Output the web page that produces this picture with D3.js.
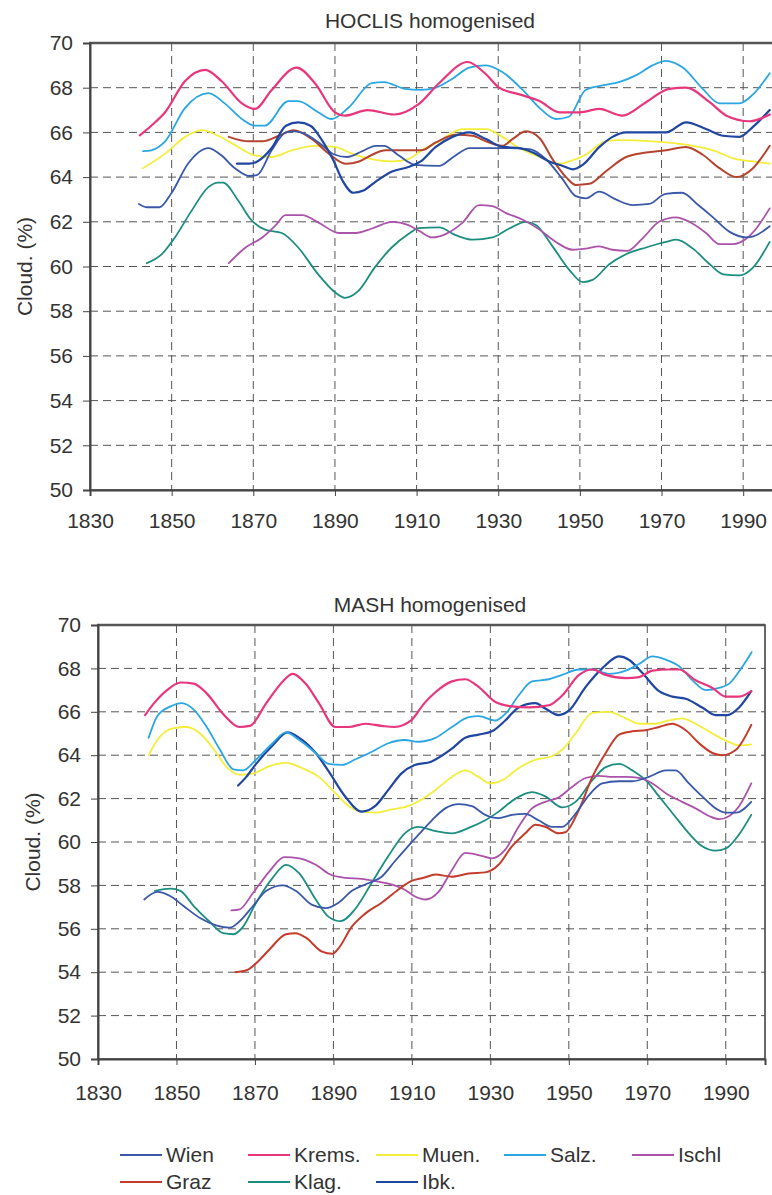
<!DOCTYPE html>
<html><head><meta charset="utf-8">
<script src="https://cdn.jsdelivr.net/npm/d3@7"></script>
<style>body{margin:0;background:#fff}svg{display:block}</style>
</head><body>
<svg id="c" width="772" height="1195"></svg>
<script>
// ---- data ----
const stations = ["Wien","Krems.","Muen.","Salz.","Ischl","Graz","Klag.","Ibk."];
const stationColors = ["#3a58a8","#e8367c","#f4ee3a","#2aa6e2","#ab52aa","#c43c2c","#1c8e80","#1f46a0"];
const xTicks = [1830,1850,1870,1890,1910,1930,1950,1970,1990];
const yTicks = [50,52,54,56,58,60,62,64,66,68,70];

// HOCLIS homogenised [year, cloudiness %]
const hoclisWien = [[1842,62.8],[1844,62.65],[1847,62.65],[1850,63.3],[1854,64.6],[1859,65.3],[1862,65.0],[1865.5,64.4],[1869,64.05],[1871,64.1],[1874.5,65.2],[1878,66.0],[1880,66.05],[1883,65.9],[1886,65.55],[1890,65.0],[1893,64.9],[1896.6,65.15],[1900,65.4],[1902,65.4],[1905.4,65.0],[1909.5,64.55],[1915.5,64.5],[1919,64.9],[1923,65.3],[1931,65.3],[1937.6,65.25],[1941.7,64.8],[1945.8,63.9],[1949,63.15],[1951.5,63.05],[1954.7,63.35],[1958.8,63.0],[1963,62.75],[1967,62.8],[1971,63.25],[1975,63.3],[1979,62.75],[1982.6,62.2],[1986.7,61.55],[1990.8,61.3],[1992.5,61.35],[1996.5,61.8]];
const hoclisKrems = [[1842.2,65.87],[1845,66.3],[1848.4,66.9],[1853.3,68.3],[1858.2,68.8],[1862.2,68.3],[1867.2,67.3],[1870.4,67.05],[1874.5,67.9],[1880.6,68.9],[1885.1,68.2],[1890,66.9],[1892.4,66.75],[1898,67.0],[1904.5,66.8],[1910.4,67.25],[1915.5,68.2],[1922.5,69.15],[1927,68.6],[1930.2,68.0],[1935.2,67.7],[1940.1,67.4],[1945,66.9],[1950,66.9],[1954.7,67.05],[1960.4,66.75],[1966.2,67.35],[1971.9,67.95],[1976,68.0],[1981.8,67.35],[1985.9,66.75],[1991.6,66.5],[1996.5,66.8]];
const hoclisMuen = [[1843,64.4],[1848.4,65.05],[1853.3,65.8],[1857.4,66.1],[1861.4,65.85],[1866.3,65.35],[1870.4,64.97],[1874.5,64.9],[1879.4,65.2],[1885.1,65.4],[1890,65.35],[1894.1,65.05],[1899,64.8],[1903.9,64.7],[1908,64.8],[1910.8,65.15],[1915.5,65.6],[1921.2,66.15],[1927,66.15],[1931,65.8],[1935.2,65.3],[1940.1,64.9],[1945,64.6],[1947.4,64.7],[1951.4,65.0],[1956.3,65.6],[1959.6,65.65],[1967.8,65.6],[1976,65.45],[1982.6,65.2],[1988.3,64.8],[1992.4,64.7],[1996.5,64.6]];
const hoclisSalz = [[1843,65.16],[1845,65.2],[1848.4,65.6],[1853.3,67.1],[1859,67.76],[1863,67.3],[1867.2,66.6],[1870.4,66.3],[1872.8,66.3],[1878.6,67.4],[1881,67.4],[1885.9,66.9],[1889.2,66.6],[1893.3,67.1],[1899,68.2],[1902,68.25],[1907.1,67.95],[1911,67.9],[1914.7,68.0],[1918.8,68.4],[1922.9,68.9],[1927,69.0],[1931,68.7],[1936,67.9],[1940.1,67.1],[1944.1,66.6],[1947.3,66.7],[1951.4,67.9],[1955.5,68.1],[1959.6,68.25],[1963.7,68.55],[1967.8,69.0],[1971.1,69.2],[1975.2,68.9],[1980.1,67.95],[1984.2,67.3],[1989.1,67.3],[1992.4,67.7],[1996.5,68.65]];
const hoclisIschl = [[1864,60.15],[1868.1,60.85],[1872.2,61.3],[1875.5,61.85],[1877.9,62.3],[1882,62.3],[1886.1,61.95],[1891,61.5],[1895.1,61.5],[1899.1,61.7],[1904,62.0],[1908,61.85],[1910.6,61.6],[1913.8,61.3],[1917.1,61.45],[1921.2,61.95],[1925.3,62.75],[1928.6,62.7],[1931.8,62.4],[1935.9,62.1],[1940.1,61.65],[1944.1,61.1],[1948.2,60.75],[1951.4,60.8],[1954.7,60.9],[1957.9,60.75],[1961.6,60.7],[1965.3,61.25],[1969.4,62.0],[1973.5,62.2],[1976.8,62.0],[1980.9,61.5],[1984.2,61.0],[1987.5,61.0],[1990.8,61.25],[1993.2,61.7],[1996.5,62.6]];
const hoclisGraz = [[1864,65.8],[1868.9,65.6],[1872.2,65.6],[1876.3,65.85],[1879.9,66.1],[1884.4,65.7],[1888.5,65.05],[1892.6,64.6],[1895.9,64.7],[1899.1,65.0],[1902.4,65.2],[1908,65.2],[1911.2,65.2],[1914.7,65.55],[1919.6,65.9],[1923.7,65.85],[1927,65.6],[1931,65.4],[1933.5,65.7],[1936.8,66.05],[1940.1,65.75],[1943.3,64.8],[1946.6,64.0],[1949,63.65],[1952.3,63.7],[1956.3,64.25],[1961.3,64.9],[1966.2,65.1],[1971.1,65.2],[1976,65.35],[1980.1,65.0],[1984.2,64.4],[1988.3,64.0],[1992.4,64.4],[1996.5,65.4]];
const hoclisKlag = [[1843.9,60.15],[1847.6,60.55],[1850.8,61.3],[1854.9,62.5],[1859,63.55],[1861.4,63.75],[1862.6,63.75],[1866.3,62.95],[1869.6,62.06],[1872.9,61.65],[1877,61.5],[1881,60.85],[1885.9,59.65],[1890,58.85],[1892.4,58.6],[1895.7,58.9],[1899.8,59.97],[1903.9,60.85],[1908,61.45],[1910.5,61.72],[1915.5,61.75],[1919.6,61.4],[1923.7,61.2],[1928.6,61.3],[1932.7,61.7],[1936.8,62.0],[1939.3,61.85],[1943.3,60.9],[1947.4,59.85],[1950.7,59.3],[1953.1,59.4],[1957.2,60.1],[1961.3,60.55],[1966.2,60.85],[1971.1,61.1],[1973.6,61.2],[1977.7,60.8],[1981.8,60.1],[1985.1,59.65],[1989.1,59.6],[1992.4,59.95],[1996.5,61.1]];
const hoclisIbk = [[1866,64.6],[1869,64.6],[1871,64.7],[1874.5,65.3],[1878,66.3],[1881,66.45],[1884,66.3],[1887,65.6],[1889.5,64.8],[1892,63.8],[1894.5,63.3],[1897,63.4],[1900,63.8],[1904,64.25],[1908,64.45],[1911,64.7],[1914.7,65.35],[1918.8,65.8],[1922.9,66.0],[1927,65.7],[1931,65.35],[1935.2,65.3],[1938.5,65.1],[1942.5,64.7],[1945.8,64.5],[1948.3,64.35],[1950.7,64.55],[1954.8,65.35],[1958,65.8],[1961.3,66.0],[1966.2,66.0],[1971.1,66.0],[1976,66.45],[1980.9,66.15],[1985,65.85],[1989.1,65.8],[1992.4,66.25],[1996.5,67.0]];

// MASH homogenised [year, cloudiness %]
const mashWien = [[1841.8,57.35],[1845.1,57.7],[1848.5,57.5],[1851.8,57.05],[1856,56.5],[1860.3,56.15],[1863.6,56.05],[1866.1,56.35],[1869.5,57.05],[1872.9,57.75],[1877.1,58.0],[1880.4,57.75],[1884.6,57.1],[1888,56.95],[1891.3,57.2],[1894.7,57.75],[1898.9,58.1],[1902.3,58.4],[1905.6,59.1],[1909,59.8],[1912,60.4],[1915.1,61.0],[1918.5,61.55],[1921.9,61.75],[1925.3,61.65],[1928.7,61.25],[1932.1,61.1],[1935.5,61.25],[1938.9,61.3],[1942.3,61.0],[1945.7,60.7],[1948.3,60.7],[1951.7,61.3],[1955.1,62.15],[1958.5,62.7],[1962.8,62.8],[1966.2,62.8],[1970.4,63.0],[1974.7,63.3],[1977.2,63.3],[1980.6,62.7],[1984,62.1],[1987.4,61.55],[1990,61.35],[1992.6,61.35],[1996.5,61.85]];
const mashKrems = [[1842,65.85],[1844.3,66.4],[1847.6,67.0],[1851,67.35],[1854.4,67.3],[1857.7,66.85],[1861.9,65.9],[1866.1,65.3],[1868.7,65.35],[1872.9,66.4],[1877.1,67.4],[1879.6,67.75],[1882.9,67.3],[1886.3,66.4],[1890.5,65.3],[1893.9,65.3],[1898.1,65.45],[1902.3,65.35],[1905.6,65.3],[1909.8,65.6],[1913.2,66.4],[1916,66.9],[1920.2,67.4],[1923.6,67.5],[1927,67.15],[1931.3,66.45],[1935.5,66.25],[1939.8,66.2],[1944.9,66.3],[1948.3,66.75],[1952.6,67.7],[1956,67.95],[1959.4,67.7],[1964.5,67.55],[1967.9,67.6],[1971.3,67.9],[1975.5,67.95],[1978.1,67.95],[1982.3,67.45],[1986.6,67.1],[1990,66.7],[1993.4,66.7],[1996.5,66.95]];
const mashMuen = [[1842.9,64.0],[1845.1,64.7],[1849.3,65.25],[1852.7,65.3],[1856,65.0],[1859.4,64.3],[1862.8,63.45],[1866.1,63.1],[1869.5,63.15],[1873.7,63.5],[1877.9,63.65],[1882.1,63.4],[1886.3,63.0],[1890.5,62.25],[1893.9,61.65],[1897.2,61.4],[1900.6,61.35],[1904.8,61.5],[1909,61.65],[1912.4,61.95],[1916,62.4],[1920.2,63.0],[1923.6,63.3],[1927,63.0],[1930,62.7],[1933,62.85],[1937.2,63.4],[1941.5,63.8],[1945.7,63.95],[1948.3,64.25],[1951.7,65.0],[1956,65.95],[1960.2,66.0],[1964.5,65.7],[1967.9,65.45],[1972.1,65.45],[1975.5,65.6],[1978.9,65.7],[1982.3,65.45],[1986.6,65.0],[1990.9,64.6],[1993.4,64.45],[1996.5,64.5]];
const mashSalz = [[1842.9,64.8],[1845.1,65.8],[1848.5,66.25],[1851.4,66.4],[1854.4,66.1],[1857.7,65.3],[1861.1,64.25],[1864.5,63.35],[1867,63.3],[1870.3,63.8],[1874.5,64.55],[1877.9,65.05],[1881.3,64.7],[1885.5,64.1],[1888.8,63.6],[1892.2,63.55],[1895.5,63.8],[1899.7,64.15],[1904,64.55],[1908.2,64.7],[1911.5,64.62],[1916,64.8],[1920.2,65.3],[1924.5,65.75],[1927,65.8],[1931.3,65.6],[1933.8,65.9],[1937.2,66.75],[1940.6,67.4],[1944.9,67.5],[1948.3,67.7],[1952.6,67.95],[1956,67.95],[1960.2,67.75],[1964.5,67.9],[1967.9,68.2],[1971.3,68.55],[1974.7,68.4],[1978.1,68.1],[1981.5,67.45],[1984.9,67.0],[1988.3,67.1],[1990.9,67.3],[1994.3,68.1],[1996.6,68.75]];
const mashIschl = [[1864,56.85],[1866.1,56.9],[1869.5,57.65],[1873.7,58.65],[1877.5,59.3],[1881.3,59.25],[1885.5,58.95],[1889.2,58.5],[1893,58.35],[1897.2,58.3],[1900.6,58.2],[1904.8,58.05],[1908.2,57.8],[1910.7,57.5],[1913.5,57.35],[1916.8,57.7],[1920.2,58.7],[1923.6,59.5],[1927,59.4],[1930.4,59.25],[1933.8,59.65],[1937.2,60.7],[1940.6,61.55],[1944,61.85],[1947.4,62.05],[1950.9,62.55],[1954.3,62.95],[1957.7,63.05],[1961.1,63.0],[1964.5,63.0],[1967.9,62.95],[1971.3,62.7],[1974.7,62.25],[1978.9,61.85],[1982.3,61.55],[1985.7,61.2],[1988.3,61.05],[1990.9,61.2],[1993.4,61.65],[1996.5,62.7]];
const mashGraz = [[1865,54.0],[1868,54.1],[1870.5,54.45],[1873.7,55.05],[1877.9,55.75],[1880.4,55.8],[1882.9,55.6],[1887.1,54.95],[1889.7,54.85],[1891.3,55.1],[1894.7,56.1],[1898.1,56.7],[1902.3,57.2],[1906.5,57.8],[1909.8,58.2],[1913,58.35],[1916,58.5],[1920.2,58.4],[1924.5,58.55],[1928.7,58.6],[1932.1,58.95],[1935.5,59.8],[1938.9,60.4],[1941.5,60.8],[1944,60.7],[1947.4,60.4],[1949.1,60.45],[1952.6,61.5],[1956,63.0],[1959.4,64.1],[1962.8,64.95],[1966.2,65.1],[1969.6,65.15],[1973,65.3],[1976.4,65.45],[1979.8,65.15],[1983.2,64.55],[1986.6,64.1],[1989.1,64.0],[1992.6,64.25],[1996.5,65.4]];
const mashKlag = [[1844.5,57.75],[1848.5,57.85],[1851,57.75],[1854.4,57.05],[1858.6,56.3],[1861.9,55.8],[1864.5,55.75],[1867,56.1],[1870.3,57.2],[1874.5,58.35],[1877.9,58.95],[1881.3,58.55],[1885.5,57.35],[1888.8,56.55],[1891.8,56.35],[1895.5,56.9],[1899.7,58.1],[1904,59.35],[1908.2,60.4],[1911.5,60.7],[1916,60.5],[1920.2,60.4],[1924.5,60.65],[1928.7,61.0],[1932.1,61.4],[1936.4,62.0],[1940.6,62.3],[1944,62.1],[1948.3,61.6],[1951.7,61.85],[1956,62.85],[1959.4,63.45],[1962.8,63.6],[1966.2,63.3],[1969.6,62.85],[1973,62.1],[1977.2,61.15],[1980.6,60.4],[1984,59.8],[1987.4,59.6],[1990,59.7],[1993.4,60.35],[1996.5,61.25]];
const mashIbk = [[1865.7,62.6],[1867.8,63.0],[1870.3,63.6],[1874.5,64.45],[1878.3,65.05],[1881.3,64.8],[1885.5,64.1],[1888.8,63.25],[1893,62.1],[1897.2,61.4],[1900.6,61.65],[1904,62.4],[1907.3,63.15],[1910.7,63.55],[1914.9,63.7],[1916,63.8],[1920.2,64.3],[1923.6,64.8],[1927,64.95],[1930.4,65.1],[1933.8,65.6],[1937.2,66.2],[1941.5,66.4],[1944,66.15],[1947.4,65.85],[1950,66.05],[1954.3,67.15],[1958.5,68.0],[1962.8,68.55],[1965.3,68.4],[1968.7,67.8],[1973,66.95],[1976.4,66.7],[1979.8,66.6],[1984,66.2],[1987.4,65.85],[1990.4,65.85],[1993.4,66.2],[1996.5,66.95]];

const hoclisSeries = [hoclisWien,hoclisKrems,hoclisMuen,hoclisSalz,hoclisIschl,hoclisGraz,hoclisKlag,hoclisIbk];
const mashSeries = [mashWien,mashKrems,mashMuen,mashSalz,mashIschl,mashGraz,mashKlag,mashIbk];

// ---- drawing ----
const svg = d3.select("#c");
const FONT = "'Liberation Sans', Arial, sans-serif";
const FS = 21;
const widths = [1.8,2.2,1.8,1.8,1.8,2.0,1.8,2.2];

function panel(cfg){
  const x = d3.scaleLinear().domain([1830,2000]).range([cfg.left,cfg.right]);
  const y = d3.scaleLinear().domain([50,70]).range([cfg.bottom,cfg.top]);
  const g = svg.append("g");
  // grid
  g.append("g").selectAll("line").data(yTicks.filter(v=>v>50&&v<70)).join("line")
    .attr("x1",cfg.left).attr("x2",cfg.right).attr("y1",d=>y(d)).attr("y2",d=>y(d))
    .attr("stroke","#555").attr("stroke-width",1).attr("stroke-dasharray","8,5");
  g.append("g").selectAll("line").data(xTicks.filter(v=>v>1830)).join("line")
    .attr("x1",d=>x(d)).attr("x2",d=>x(d)).attr("y1",cfg.top).attr("y2",cfg.bottom)
    .attr("stroke","#555").attr("stroke-width",1).attr("stroke-dasharray","8,5");
  // border
  g.append("rect").attr("x",cfg.left).attr("y",cfg.top).attr("width",cfg.right-cfg.left).attr("height",cfg.bottom-cfg.top)
    .attr("fill","none").attr("stroke","#444").attr("stroke-width",1.6);
  g.append("line").attr("x1",cfg.left-1).attr("x2",cfg.right).attr("y1",cfg.top).attr("y2",cfg.top).attr("stroke","#555").attr("stroke-width",2.5);
  // axes
  const ax = g.append("g").attr("transform",`translate(0,${cfg.bottom})`)
    .call(d3.axisBottom(x).tickValues(xTicks).tickFormat(d3.format("d")).tickSize(6).tickPadding(cfg.xpad));
  const ay = g.append("g").attr("transform",`translate(${cfg.left},0)`)
    .call(d3.axisLeft(y).tickValues(yTicks).tickSize(7).tickPadding(10));
  [ax,ay].forEach(a=>{
    a.select(".domain").attr("stroke","#444").attr("stroke-width",2);
    a.selectAll(".tick line").attr("stroke","#444");
    a.selectAll("text").attr("font-family",FONT).attr("font-size",FS).attr("fill","#333");
  });
  // lines
  const line = d3.line().x(d=>x(d[0])).y(d=>y(d[1])).curve(d3.curveMonotoneX);
  const order = [6,4,2,5,0,7,3,1];
  order.forEach(i=>{
    g.append("path").datum(cfg.series[i]).attr("d",line).attr("fill","none")
      .attr("stroke",cfg.colors ? cfg.colors[i] : stationColors[i]).attr("stroke-width",widths[i])
      .attr("stroke-linejoin","round").attr("stroke-linecap","round");
  });
  // title
  svg.append("text").attr("x",cfg.titleX).attr("y",cfg.titleY).attr("text-anchor","middle")
    .attr("font-family",FONT).attr("font-size",FS).attr("fill","#333").text(cfg.title);
  svg.append("text").attr("transform",`translate(${cfg.ylabX},${(cfg.top+cfg.bottom)/2}) rotate(-90)`)
    .attr("text-anchor","middle").attr("dy","0.35em").attr("font-family",FONT).attr("font-size",FS).attr("fill","#333").text("Cloud. (%)");
}

const topColors = stationColors.slice(); topColors[5] = "#b4442e";
panel({left:90,right:784,top:43,bottom:490,series:hoclisSeries,colors:topColors,xpad:17,
  title:"HOCLIS homogenised",titleX:430,titleY:28,ylabX:25});
panel({left:98,right:765,top:625,bottom:1059,series:mashSeries,xpad:20,
  title:"MASH homogenised",titleX:430,titleY:612,ylabX:33});

// legend
const leg = svg.append("g");
stations.forEach((s,i)=>{
  const col = i%5, row = Math.floor(i/5);
  const lx = 120 + col*128, ly = 1155 + row*27;
  leg.append("line").attr("x1",lx).attr("x2",lx+42).attr("y1",ly).attr("y2",ly)
    .attr("stroke",stationColors[i]).attr("stroke-width",2.2);
  leg.append("text").attr("x",lx+46).attr("y",ly+7).attr("font-family",FONT).attr("font-size",FS)
    .attr("fill","#333").text(s);
});
</script>
</body></html>
